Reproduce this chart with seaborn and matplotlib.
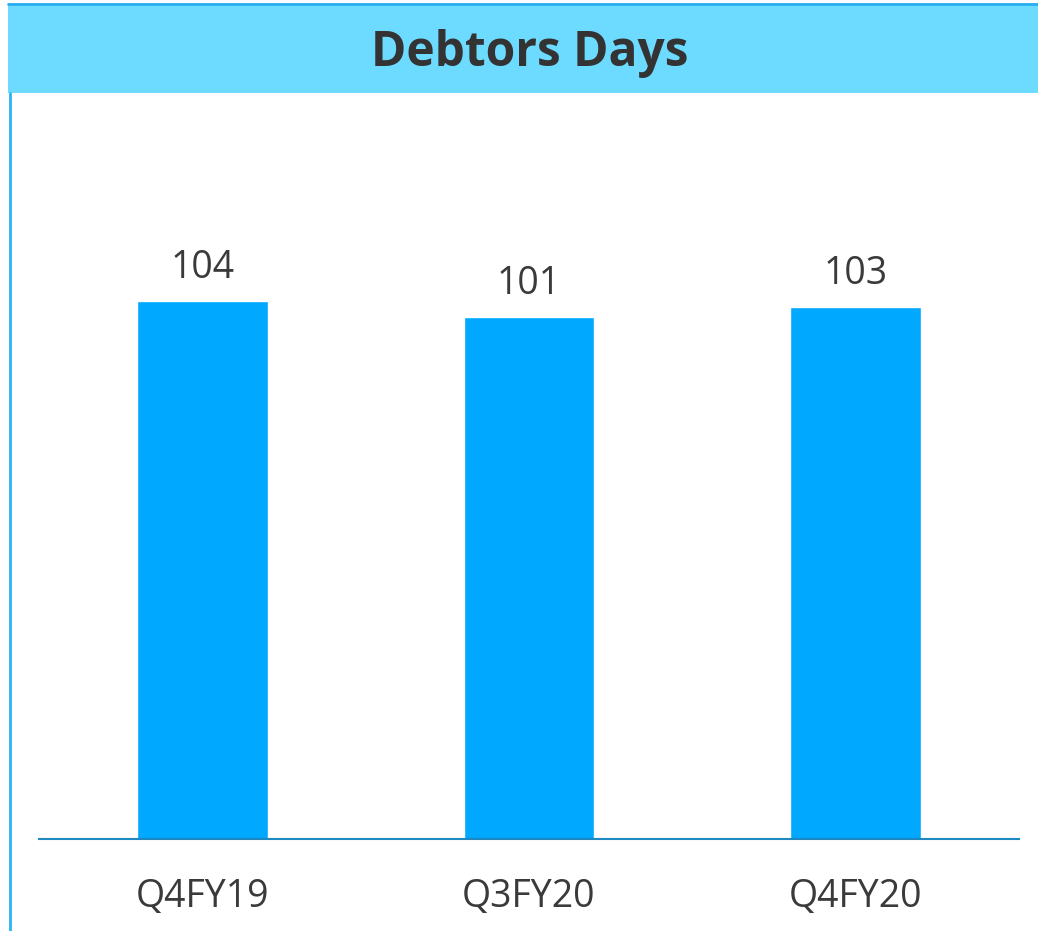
import matplotlib
matplotlib.use('Agg')
import matplotlib.pyplot as plt
import seaborn as sns
from matplotlib.patches import Rectangle
from matplotlib.lines import Line2D

# Data
quarters = ['Q4FY19', 'Q3FY20', 'Q4FY20']
debtor_days = [104, 101, 103]

sns.set_style('white')
plt.rcParams['font.family'] = ['Open Sans', 'DejaVu Sans']

W, H = 1038, 931
fig = plt.figure(figsize=(W / 100, H / 100), dpi=100)

# Title band and frame
fig.patches.append(Rectangle((8 / W, 1 - 93 / H), 1 - 8 / W, 90 / H, transform=fig.transFigure,
                             facecolor='#6DDBFF', edgecolor='none', zorder=0))
fig.lines.append(Line2D([8 / W, 1], [1 - 3.5 / H, 1 - 3.5 / H], transform=fig.transFigure,
                        color='#2BAEF0', lw=2))
fig.lines.append(Line2D([9.5 / W, 9.5 / W], [0, 1 - 93 / H], transform=fig.transFigure,
                        color='#29B6F6', lw=2))
fig.text(530 / W, 1 - 54 / H, 'Debtors Days', ha='center', va='center',
         fontsize=34.5, fontweight='bold', color='#333333')

ax = fig.add_axes([39 / W, (H - 839) / H, (1019 - 39) / W, (839 - 93) / H])
sns.barplot(x=quarters, y=debtor_days, color='#00A8FF', width=0.4, saturation=1, ax=ax)
ax.set_xlim(-0.5, 2.5)
ax.set_ylim(0, 144.3)

for i, v in enumerate(debtor_days):
    ax.annotate(str(v), (i, v), xytext=(0, 10), textcoords='offset points',
                ha='center', va='bottom', fontsize=27, color='#3A3A3A')

for s in ['top', 'right', 'left']:
    ax.spines[s].set_visible(False)
ax.spines['bottom'].set_color('#1E88C0')
ax.spines['bottom'].set_linewidth(1.5)
ax.set_yticks([])
ax.set_xlabel('')
ax.set_ylabel('')
ax.tick_params(axis='x', length=0, pad=28, labelsize=27, labelcolor='#3A3A3A')
ax.patch.set_alpha(0)

fig.savefig('out.png', dpi=100)
